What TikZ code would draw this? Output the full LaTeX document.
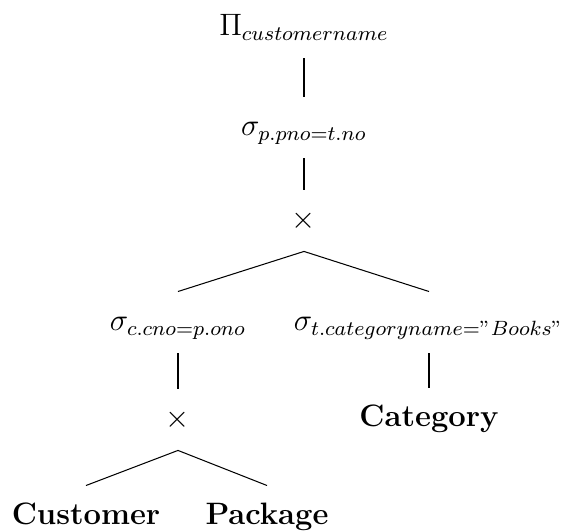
\documentclass[12pt,tikz,border=0pt]{standalone}
\begin{document}
\begin{tikzpicture}[x=0.3876pt,y=-0.3876pt,
  every node/.style={inner sep=0pt,text height=15.1pt,text depth=8.5pt,anchor=base},
  link/.style={draw=black,line width=0.4pt}]
\useasboundingbox (0,0) rectangle (568,532);
\node (pi) at (304,36) {$\Pi_{customername}$};
\node (sp) at (304,136) {$\sigma_{p.pno=t.no}$};
\node (x1) at (304,229) {$\times$};
\node (sc) at (178,331) {$\sigma_{c.cno=p.ono}$};
\node (st) at (429,331) {$\sigma_{t.categoryname="Books"}$};
\node (x2) at (178,428) {$\times$};
\node (cat) at (429,427) {\textbf{Category}};
\node (cu) at (86,525) {\textbf{Customer}};
\node (pa) at (267,525) {\textbf{Package}};
\draw[link] (pi.south) -- (sp.north);
\draw[link] (sp.south) -- (x1.north);
\draw[link] (x1.south) -- (sc.north);
\draw[link] (x1.south) -- (st.north);
\draw[link] (sc.south) -- (x2.north);
\draw[link] (st.south) -- (cat.north);
\draw[link] (x2.south) -- (cu.north);
\draw[link] (x2.south) -- (pa.north);
\end{tikzpicture}
\end{document}
